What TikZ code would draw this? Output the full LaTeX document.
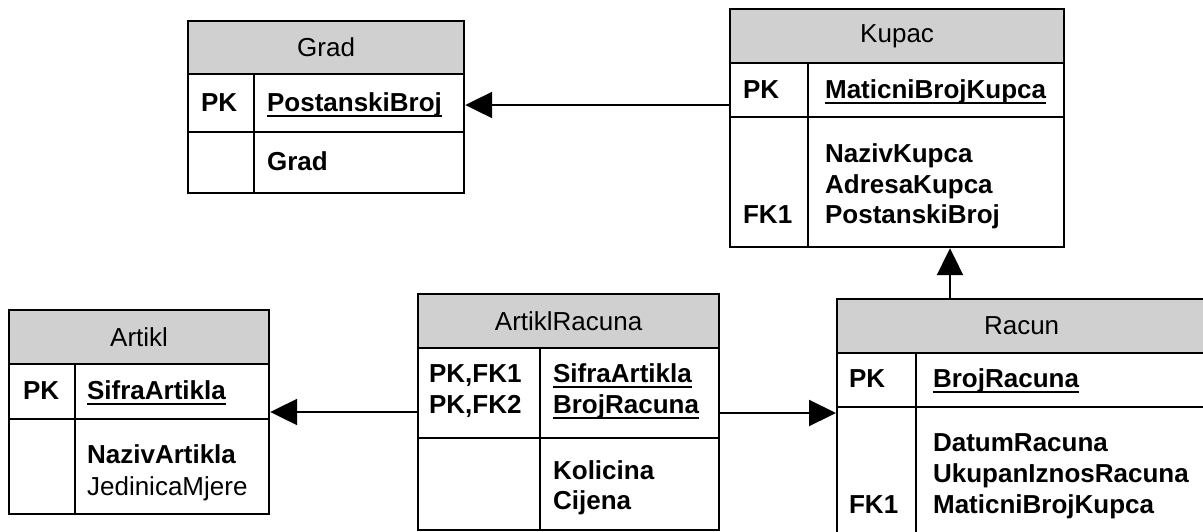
\documentclass[tikz,border=0pt]{standalone}
\usepackage{fontspec}
\setmainfont{Liberation Sans}
\usetikzlibrary{arrows.meta}
\definecolor{hdr}{RGB}{208,208,208}
\newcommand{\pkul}[1]{\setbox0\hbox{#1}\rlap{\rule[-6pt]{\wd0}{2.2pt}}\box0}
\begin{document}
\begin{tikzpicture}[x=1pt,y=-1pt, line width=2.2pt,
  tbl/.style={draw, rectangle, inner sep=0pt, anchor=north west},
  hdrbox/.style={tbl, fill=hdr},
  ttl/.style={font=\fontsize{26}{30}\selectfont, inner sep=0pt},
  fld/.style={font=\fontsize{26}{30}\selectfont\bfseries, inner sep=0pt, anchor=base west},
  fldr/.style={font=\fontsize{26}{30}\selectfont, inner sep=0pt, anchor=base west},
  rel/.style={-{Triangle[length=27pt,width=26pt]}, line width=2.2pt}]
\useasboundingbox (0,0) rectangle (1203,531);
% Grad
\node[hdrbox, minimum width=276pt, minimum height=53pt] (gradH) at (187,20) {};
\node[tbl, minimum width=276pt, minimum height=119pt] (gradB) at (187,73) {};
\draw (187,132) -- (463,132);
\draw (254,73) -- (254,192);
\node[ttl] (gradT) at (gradH.center) {Grad};
\node[fld] (gradPK) at (200,111) {PK};
\node[fld] (gradPKa) at (266,111) {\pkul{PostanskiBroj}};
\node[fld] (gradA) at (266,170) {Grad};
% Kupac
\node[hdrbox, minimum width=334pt, minimum height=54pt] (kupacH) at (729,8) {};
\node[tbl, minimum width=334pt, minimum height=184pt] (kupacB) at (729,62) {};
\draw (729,117) -- (1063,117);
\draw (808,62) -- (808,246);
\node[ttl] (kupacT) at (kupacH.center) {Kupac};
\node[fld] (kupacPK) at (742,98) {PK};
\node[fld] (kupacPKa) at (824,98) {\pkul{MaticniBrojKupca}};
\node[fld] (kupacA1) at (824,162) {NazivKupca};
\node[fld] (kupacA2) at (824,193) {AdresaKupca};
\node[fld] (kupacA3) at (824,223) {PostanskiBroj};
\node[fld] (kupacFK) at (742,223) {FK1};
% Artikl
\node[hdrbox, minimum width=260pt, minimum height=54pt] (artiklH) at (8,309) {};
\node[tbl, minimum width=260pt, minimum height=150pt] (artiklB) at (8,363) {};
\draw (8,419) -- (268,419);
\draw (75,363) -- (75,513);
\node[ttl] (artiklT) at (artiklH.center) {Artikl};
\node[fld] (artiklPK) at (22,399) {PK};
\node[fld] (artiklPKa) at (86,399) {\pkul{SifraArtikla}};
\node[fld] (artiklA1) at (86,463) {NazivArtikla};
\node[fldr] (artiklA2) at (86,495) {JedinicaMjere};
% ArtiklRacuna
\node[hdrbox, minimum width=301pt, minimum height=54pt] (arH) at (417,293) {};
\node[tbl, minimum width=301pt, minimum height=182pt] (arB) at (417,347) {};
\draw (417,438) -- (718,438);
\draw (540,347) -- (540,529);
\node[ttl] (arT) at (arH.center) {ArtiklRacuna};
\node[fld] (arK1) at (428,382) {PK,FK1};
\node[fld] (arK2) at (428,413) {PK,FK2};
\node[fld] (arP1) at (552,382) {\pkul{SifraArtikla}};
\node[fld] (arP2) at (552,413) {\pkul{BrojRacuna}};
\node[fld] (arA1) at (552,479) {Kolicina};
\node[fld] (arA2) at (552,509) {Cijena};
% Racun
\node[hdrbox, minimum width=369pt, minimum height=54pt] (racunH) at (836,298) {};
\node[tbl, minimum width=369pt, minimum height=190pt] (racunB) at (836,352) {};
\draw (836,407) -- (1205,407);
\draw (916,352) -- (916,542);
\node[ttl] (racunT) at (racunH.center) {Racun};
\node[fld] (racunPK) at (848,387) {PK};
\node[fld] (racunPKa) at (932,387) {\pkul{BrojRacuna}};
\node[fld] (racunA1) at (932,451) {DatumRacuna};
\node[fld] (racunA2) at (932,482) {UkupanIznosRacuna};
\node[fld] (racunA3) at (932,513) {MaticniBrojKupca};
\node[fld] (racunFK) at (848,513) {FK1};
% relations
\draw[rel] (kupacB.west |- 0,105) -- (gradB.east |- 0,105);
\draw[rel] (racunH.north -| 950,0) -- (kupacB.south -| 950,0);
\draw[rel] (arB.west |- 0,412) -- (artiklB.east |- 0,412);
\draw[rel] (arB.east |- 0,413) -- (racunB.west |- 0,413);
\end{tikzpicture}
\end{document}
